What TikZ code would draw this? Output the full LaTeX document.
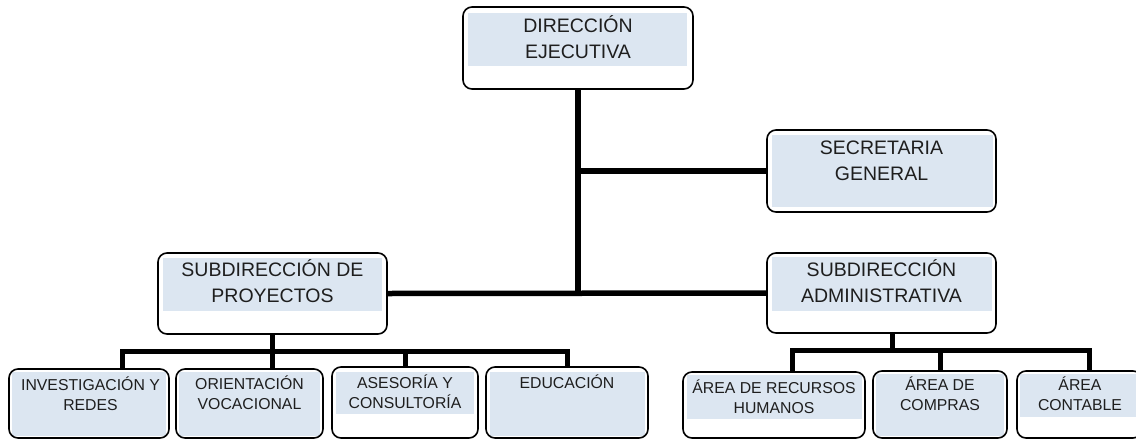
\documentclass[tikz,border=0pt]{standalone}
\usepackage{fontspec}
\setmainfont{Liberation Sans}
\definecolor{lb}{RGB}{220,230,241}
\definecolor{txt}{RGB}{30,30,30}
\begin{document}
\begin{tikzpicture}[x=1pt,y=-1pt,
  box/.style={draw=black,line width=1.6pt,rounded corners=9pt,anchor=north west,inner sep=0pt,outer sep=0pt},
  bigtxt/.style={anchor=north,align=center,inner sep=0pt,text=txt,font=\fontsize{19.5}{26.5}\selectfont},
  smalltxt/.style={anchor=north,align=center,inner sep=0pt,text=txt,font=\fontsize{15.8}{20.5}\selectfont},
  conn/.style={line width=5.5pt},
  bus/.style={line width=5pt,line join=miter}]
\useasboundingbox (0,0) rectangle (1136,440);
\clip (0,0) rectangle (1136,440);
% inner fills
\fill[lb] (468,13) rectangle (687,66);
\fill[lb] (772,135) rectangle (993,207);
\fill[lb] (163,258) rectangle (382,311);
\fill[lb] (772,257) rectangle (992,311);
\fill[lb] (12,372) rectangle (166,436);
\fill[lb] (179,372) rectangle (320,436);
\fill[lb] (336,372) rectangle (474,414);
\fill[lb] (490,372) rectangle (645,436);
\fill[lb] (687,375) rectangle (862,419);
\fill[lb] (876,374) rectangle (1004,436);
\fill[lb] (1020,374) rectangle (1139,417);
% boxes
\node[box,minimum width=230pt,minimum height=82pt] (dir) at (463,7) {};
\node[box,minimum width=229pt,minimum height=82pt] (sec) at (767,130) {};
\node[box,minimum width=229pt,minimum height=81pt] (proj) at (158,253) {};
\node[box,minimum width=229pt,minimum height=80pt] (adm) at (767,253) {};
\node[box,minimum width=160pt,minimum height=69pt] (inv) at (9,369) {};
\node[box,minimum width=147pt,minimum height=69pt] (ori) at (176,369) {};
\node[box,minimum width=146pt,minimum height=71pt] (ase) at (332,367) {};
\node[box,minimum width=162pt,minimum height=71pt] (edu) at (486,367) {};
\node[box,minimum width=182pt,minimum height=66pt] (rrhh) at (683,372) {};
\node[box,minimum width=134pt,minimum height=67pt] (com) at (873,371) {};
\node[box,minimum width=125pt,minimum height=67pt] (con) at (1017,371) {};
% texts
\node[bigtxt] (dirT) at (578,13) {\rule{0pt}{19pt}DIRECCIÓN\\EJECUTIVA};
\node[bigtxt] (secT) at (881.5,135) {\rule{0pt}{19pt}SECRETARIA\\GENERAL};
\node[bigtxt] (projT) at (272.5,257) {\rule{0pt}{19pt}SUBDIRECCIÓN DE\\PROYECTOS};
\node[bigtxt] (admT) at (881.5,257) {\rule{0pt}{19pt}SUBDIRECCIÓN\\ADMINISTRATIVA};
\node[smalltxt] (invT) at (90.5,374.5) {\rule{0pt}{15.5pt}INVESTIGACIÓN Y\\REDES};
\node[smalltxt] (oriT) at (249.5,373.5) {\rule{0pt}{15.5pt}ORIENTACIÓN\\VOCACIONAL};
\node[smalltxt] (aseT) at (405,372.5) {\rule{0pt}{15.5pt}ASESORÍA Y\\CONSULTORÍA};
\node[smalltxt] (eduT) at (567,372.5) {\rule{0pt}{15.5pt}EDUCACIÓN};
\node[smalltxt] (rrhhT) at (774,377.5) {\rule{0pt}{15.5pt}ÁREA DE RECURSOS\\HUMANOS};
\node[smalltxt] (comT) at (940,374.5) {\rule{0pt}{15.5pt}ÁREA DE\\COMPRAS};
\node[smalltxt] (conT) at (1080,374.5) {\rule{0pt}{15.5pt}ÁREA\\CONTABLE};
% main connectors
\draw[conn] (dir.south) -- (dir.south |- proj.east);
\draw[conn] (dir.south |- sec.west) -- (sec.west);
\draw[conn] (proj.east) -- (adm.west);
% left bus
\coordinate (lbus) at (0,351);
\draw[bus] ([xshift=33pt]inv.north) |- (edu.north |- lbus) -- (edu.north);
\draw[bus] (proj.south) -- (proj.south |- ori.north);
\draw[bus] (ase.north |- lbus) -- (ase.north);
% right bus
\coordinate (rbus) at (0,350);
\draw[bus] ([xshift=18pt]rrhh.north) |- ([xshift=10pt]con.north |- rbus) -- ([xshift=10pt]con.north);
\draw[bus] ([xshift=10.5pt]adm.south) -- ([xshift=10.5pt]adm.south |- rbus);
\draw[bus] (com.north |- rbus) -- (com.north);
\end{tikzpicture}
\end{document}
